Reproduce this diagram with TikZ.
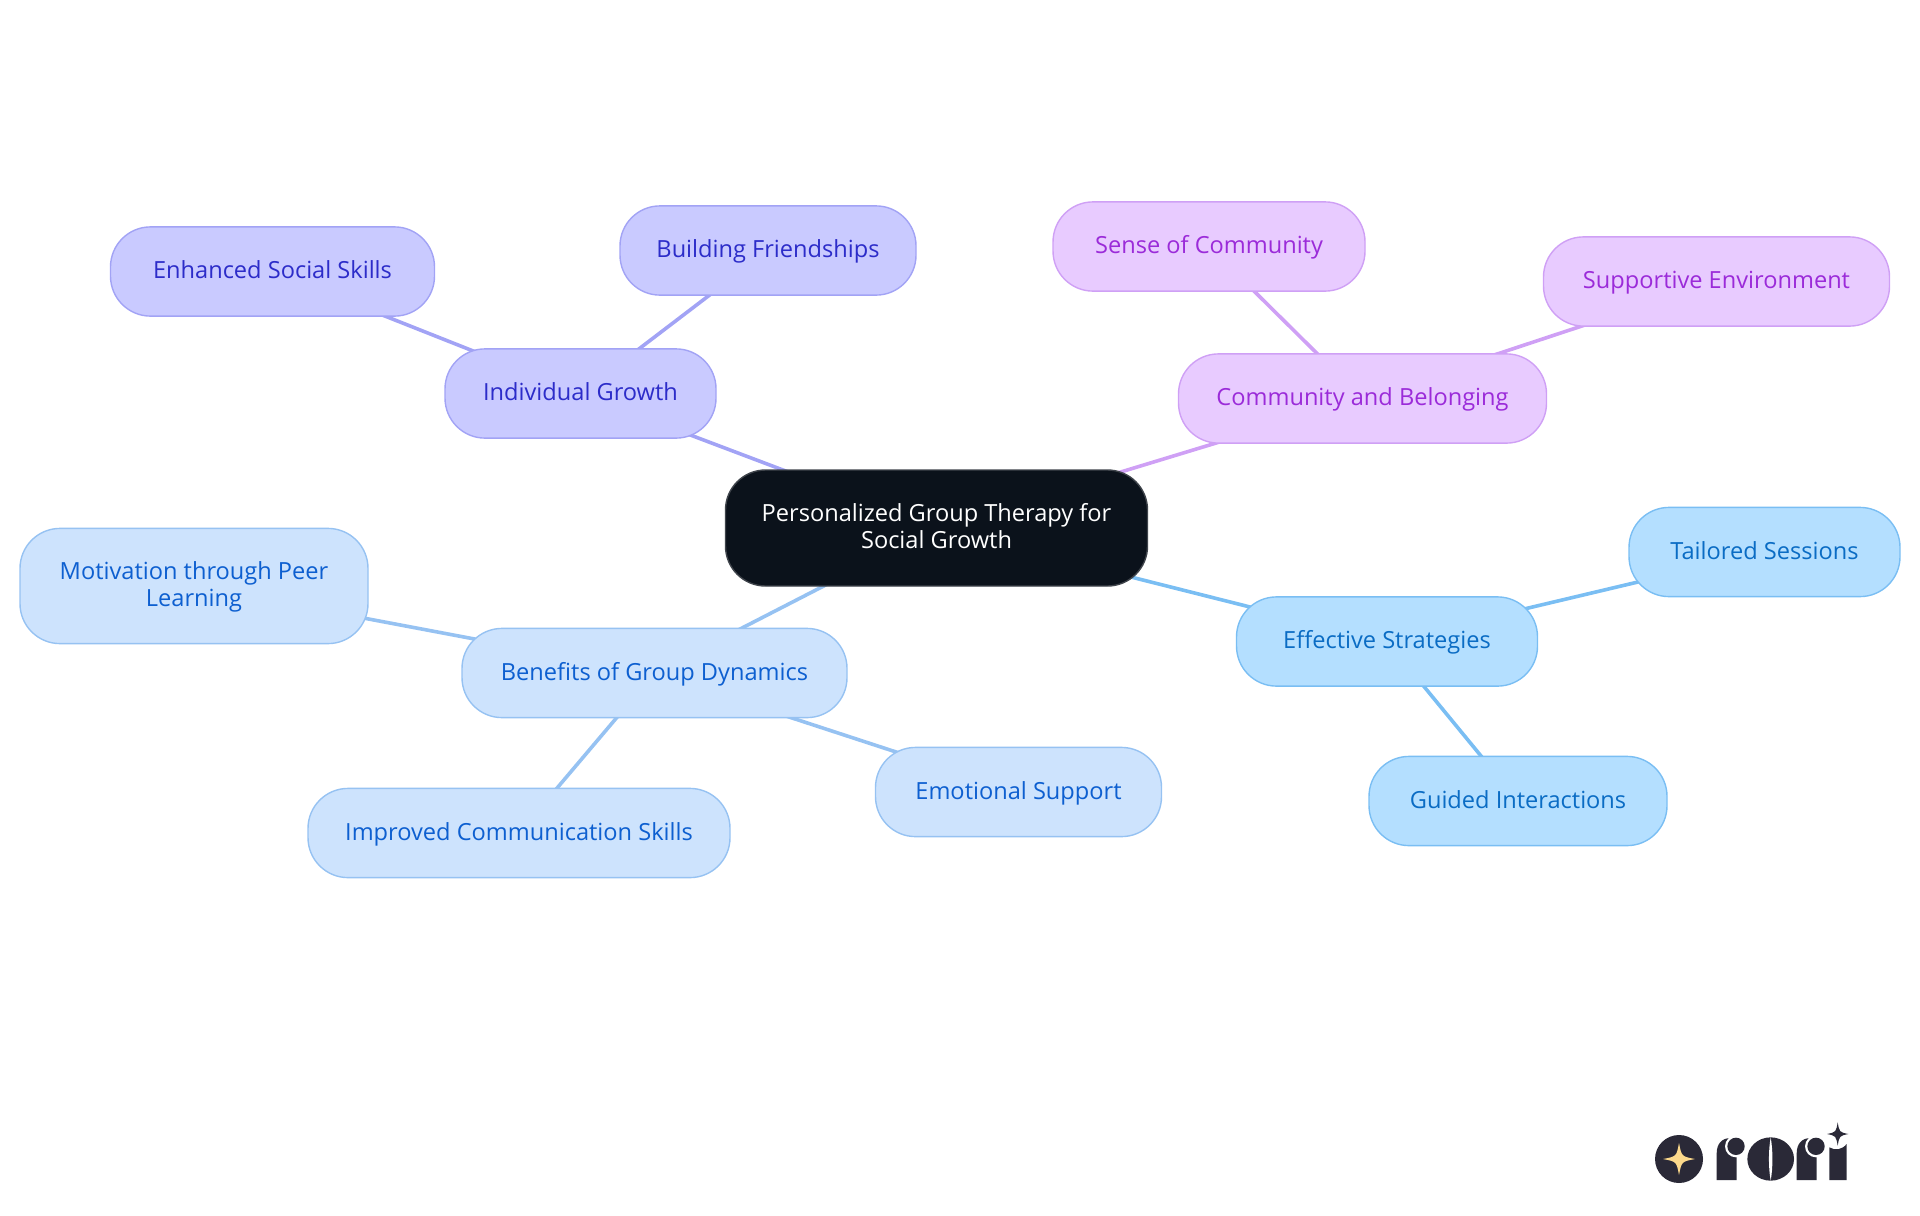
\documentclass[tikz,border=0pt]{standalone}
\usepackage{fontspec}
\setmainfont{Open Sans}
\usetikzlibrary{backgrounds}

\definecolor{rootfill}{HTML}{0B121B}
\definecolor{rootline}{HTML}{3F444B}
\definecolor{growfill}{HTML}{C9CAFF}
\definecolor{growline}{HTML}{A2A3F5}
\definecolor{growtext}{HTML}{2C2CC9}
\definecolor{commfill}{HTML}{E8CBFF}
\definecolor{commline}{HTML}{CFA0F5}
\definecolor{commtext}{HTML}{9B2BD9}
\definecolor{stratfill}{HTML}{B4DFFF}
\definecolor{stratline}{HTML}{7ABEF3}
\definecolor{strattext}{HTML}{0A6CC4}
\definecolor{benefill}{HTML}{CDE3FD}
\definecolor{beneline}{HTML}{96C2F2}
\definecolor{benetext}{HTML}{0D5FD0}
\definecolor{logodark}{HTML}{2A2937}
\definecolor{logostar}{HTML}{FCD98B}

% four pointed star of the logo: x, y, x radius, y radius
\newcommand{\starpath}[4]{(#1,#2-#4) .. controls (#1+.16*#3,#2-.16*#4) .. (#1+#3,#2)
  .. controls (#1+.16*#3,#2+.16*#4) .. (#1,#2+#4)
  .. controls (#1-.16*#3,#2+.16*#4) .. (#1-#3,#2)
  .. controls (#1-.16*#3,#2-.16*#4) .. cycle}

\tikzset{
  mapnode/.style={rounded corners=20pt, line width=.7pt, inner sep=0pt, align=center,
    minimum height=44.6pt, text height=10.2pt, text depth=3pt,
    font=\fontsize{11.8}{13.5}\selectfont},
  twolines/.style={text height=23pt, text depth=3pt},
  rootnode/.style={mapnode, fill=rootfill, draw=rootline, text=white},
  grownode/.style={mapnode, fill=growfill, draw=growline, text=growtext},
  commnode/.style={mapnode, fill=commfill, draw=commline, text=commtext},
  stratnode/.style={mapnode, fill=stratfill, draw=stratline, text=strattext},
  benenode/.style={mapnode, fill=benefill, draw=beneline, text=benetext},
  mapedge/.style={line width=1.8pt}
}

\begin{document}
\begin{tikzpicture}[x=.5pt,y=-.5pt]
\useasboundingbox (0,0) rectangle (1920,1215);

\node[rootnode,twolines,minimum width=211pt,minimum height=58pt] (root) at (936.5,528) {Personalized Group Therapy for\\Social Growth};

\node[grownode,minimum width=135.5pt] (growth) at (580.5,393.5) {Individual Growth};
\node[grownode,minimum width=162pt] (skills) at (272.5,271.5) {Enhanced Social Skills};
\node[grownode,minimum width=148pt] (friends) at (768,250.5) {Building Friendships};

\node[commnode,minimum width=184pt] (belong) at (1362.5,398.5) {Community and Belonging};
\node[commnode,minimum width=156pt] (sense) at (1209,246.5) {Sense of Community};
\node[commnode,minimum width=173pt] (support) at (1716.5,281.5) {Supportive Environment};

\node[stratnode,minimum width=150.5pt] (strategy) at (1387,641.5) {Effective Strategies};
\node[stratnode,minimum width=135.5pt] (tailored) at (1764.5,552) {Tailored Sessions};
\node[stratnode,minimum width=149pt] (guided) at (1518,801) {Guided Interactions};

\node[benenode,minimum width=192.5pt] (benefits) at (654.5,673) {Benefits of Group Dynamics};
\node[benenode,twolines,minimum width=174pt,minimum height=57.6pt] (peer) at (194,586) {Motivation through Peer\\Learning};
\node[benenode,minimum width=211pt] (speak) at (519,833) {Improved Communication Skills};
\node[benenode,minimum width=143pt] (emotion) at (1018.5,792) {Emotional Support};

\begin{scope}[on background layer]
\draw[mapedge,growline] (root.center) -- (growth.center);
\draw[mapedge,growline] (growth.center) -- (skills.center);
\draw[mapedge,growline] (growth.center) -- (friends.center);
\draw[mapedge,commline] (root.center) -- (belong.center);
\draw[mapedge,commline] (belong.center) -- (sense.center);
\draw[mapedge,commline] (belong.center) -- (support.center);
\draw[mapedge,stratline] (root.center) -- (strategy.center);
\draw[mapedge,stratline] (strategy.center) -- (tailored.center);
\draw[mapedge,stratline] (strategy.center) -- (guided.center);
\draw[mapedge,beneline] (root.center) -- (benefits.center);
\draw[mapedge,beneline] (benefits.center) -- (peer.center);
\draw[mapedge,beneline] (benefits.center) -- (speak.center);
\draw[mapedge,beneline] (benefits.center) -- (emotion.center);
\end{scope}

% logo, drawn in units of a third of a pixel
\begin{scope}[shift={(1700,1114)},x=.16667pt,y=-.16667pt]
\fill[logodark] (-63,135) circle (72);
\fill[logostar] \starpath{-63}{135}{48}{48};
\fill[logodark] (50,198) -- (50,118) .. controls (50,90) and (65,72) .. (92,72) -- (110,72) -- (110,198) -- cycle;
\fill[white] (108,97) circle (33);
\fill[logodark] (108,97) circle (26);
\fill[logodark] (212,135) ellipse (70 and 65);
\fill[white] (212,70) .. controls (205,110) and (205,160) .. (212,200) .. controls (219,160) and (219,110) .. cycle;
\fill[logodark] (290,198) -- (290,118) .. controls (290,90) and (305,72) .. (332,72) -- (350,72) -- (350,198) -- cycle;
\fill[white] (348,97) circle (33);
\fill[logodark] (348,97) circle (26);
\fill[logodark] (388,198) -- (388,100) .. controls (405,110) and (425,108) .. (440,90) -- (440,198) -- cycle;
\fill[logodark] \starpath{413}{60}{32}{35};
\end{scope}
\end{tikzpicture}
\end{document}
